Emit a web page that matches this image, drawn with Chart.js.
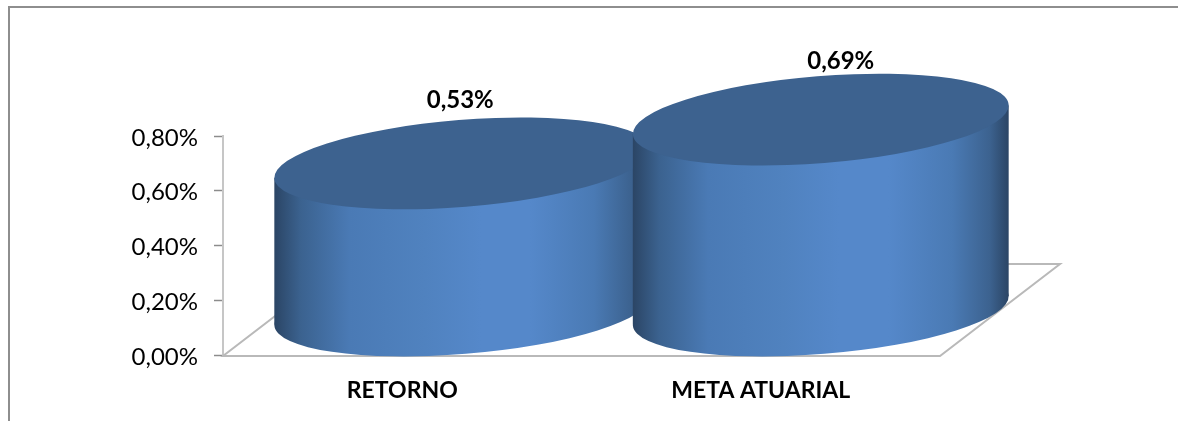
<!doctype html>
<html lang="pt">
<head>
    <meta charset="utf-8">
    <title>Retorno x Meta Atuarial</title>
    <script src="https://cdn.jsdelivr.net/npm/chart.js"></script>
    <style>
        body { margin: 0; padding: 0; background: #fff; }
        canvas { display: block; }
    </style>
</head>
<body>
    <canvas id="retornoChart" width="1178" height="421"></canvas>
    <script>
        const categories = ['RETORNO', 'META ATUARIAL'];
        const values = [0.53, 0.69];
        const tickValues = [0, 0.2, 0.4, 0.6, 0.8];

        const FONT = 'Lato, "Open Sans", sans-serif';
        const fmt = v => v.toFixed(2).replace('.', ',') + '%';

        // fake 3D: how far the floor runs back from the axis
        const SHIFT_X = 60, DEPTH = 44, TOP_LIFT = 2.5;
        const FLOOR_X = 120, FLOOR_Y = 92;
        const TILT = -4.6 * Math.PI / 180, ELL_RY = 43.5;
        const labelNudge = [-2, 20];

        const frame = {
            id: 'frame',
            beforeDraw(chart) {
                const c = chart.ctx;
                c.save();
                c.strokeStyle = '#8e8e8e';
                c.lineWidth = 2;
                c.beginPath();
                c.moveTo(9, 421);
                c.lineTo(9, 7);
                c.lineTo(1178, 7);
                c.stroke();
                c.restore();
            }
        };

        const floor3d = {
            id: 'floor3d',
            beforeDatasetsDraw(chart) {
                const c = chart.ctx, a = chart.chartArea;
                const y0 = chart.scales.y.getPixelForValue(0) + 1;
                c.save();
                c.strokeStyle = '#b9b9b9';
                c.lineWidth = 2;
                c.beginPath();
                c.moveTo(a.left, y0);
                c.lineTo(a.right, y0);
                c.lineTo(a.right + FLOOR_X, y0 - FLOOR_Y);
                c.lineTo(a.left + FLOOR_X, y0 - FLOOR_Y);
                c.closePath();
                c.stroke();
                c.restore();
            }
        };

        const cylinders = {
            id: 'cylinders',
            afterDatasetsDraw(chart) {
                const c = chart.ctx;
                chart.getDatasetMeta(0).data.forEach((bar, i) => {
                    const cx = bar.x + SHIFT_X;
                    const top = bar.y - DEPTH - TOP_LIFT;
                    const base = bar.base - DEPTH;
                    const rx = bar.width / 2;
                    const sin = Math.sin(TILT), cos = Math.cos(TILT);
                    const halfW = Math.sqrt(rx * rx * cos * cos + ELL_RY * ELL_RY * sin * sin);
                    const dy = (rx * rx - ELL_RY * ELL_RY) * sin * cos / halfW;

                    const g = c.createLinearGradient(cx - halfW, 0, cx + halfW, 0);
                    g.addColorStop(0, '#2b4565');
                    g.addColorStop(0.07, '#3b628f');
                    g.addColorStop(0.2, '#4a7ab5');
                    g.addColorStop(0.4, '#5082bf');
                    g.addColorStop(0.55, '#5588ca');
                    g.addColorStop(0.68, '#5588ca');
                    g.addColorStop(0.85, '#4a7ab4');
                    g.addColorStop(0.95, '#3c628f');
                    g.addColorStop(1, '#2b4565');

                    c.save();
                    c.fillStyle = g;
                    c.beginPath();
                    c.ellipse(cx, base, rx, ELL_RY, TILT, 0, Math.PI * 2);
                    c.fill();
                    c.beginPath();
                    c.moveTo(cx - halfW, top - dy);
                    c.lineTo(cx + halfW, top + dy);
                    c.lineTo(cx + halfW, base + dy);
                    c.lineTo(cx - halfW, base - dy);
                    c.closePath();
                    c.fill();
                    c.fillStyle = '#3d628f';
                    c.beginPath();
                    c.ellipse(cx, top, rx, ELL_RY, TILT, 0, Math.PI * 2);
                    c.fill();
                    c.restore();
                });
                // value labels go last so the second cylinder can't cover them
                chart.getDatasetMeta(0).data.forEach((bar, i) => {
                    c.save();
                    c.fillStyle = '#000';
                    c.font = 'bold 24px ' + FONT;
                    c.textAlign = 'center';
                    c.textBaseline = 'middle';
                    c.fillText(fmt(values[i]), bar.x + SHIFT_X + labelNudge[i], bar.y - DEPTH - 66 + (i ? 5 : 0));
                    c.restore();
                });
            }
        };

        new Chart(document.getElementById('retornoChart').getContext('2d'), {
            type: 'bar',
            data: {
                labels: categories,
                datasets: [{
                    data: values,
                    backgroundColor: 'rgba(0,0,0,0)',
                    barThickness: 377
                }]
            },
            options: {
                responsive: false,
                animation: false,
                layout: { padding: { top: 136, right: 238, bottom: 0, left: 0 } },
                plugins: { legend: { display: false }, tooltip: { enabled: false } },
                scales: {
                    x: {
                        afterFit: s => { s.height = 66; },
                        grid: { display: false },
                        border: { display: false },
                        ticks: { color: '#000', padding: 14, maxRotation: 0, font: { family: FONT, size: 23, weight: 'bold' } }
                    },
                    y: {
                        min: 0,
                        max: 0.8,
                        afterFit: s => { s.width = 223; },
                        afterBuildTicks: s => { s.ticks = tickValues.map(v => ({ value: v })); },
                        grid: { drawOnChartArea: false, tickLength: 9, tickColor: '#8c8c8c', tickWidth: 1.5 },
                        border: { color: '#c6c6c6', width: 2 },
                        ticks: { color: '#000', padding: 16, labelOffset: 2, callback: v => fmt(v), font: { family: FONT, size: 24 } }
                    }
                }
            },
            plugins: [frame, floor3d, cylinders]
        });
    </script>
</body>
</html>
